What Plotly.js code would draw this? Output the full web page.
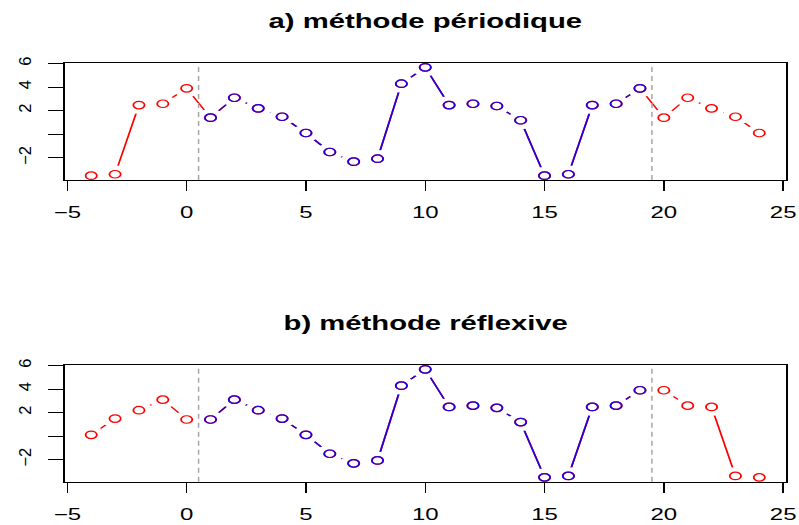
<!DOCTYPE html>
<html>
<head>
<meta charset="utf-8">
<script src="https://cdn.plot.ly/plotly-3.0.1.min.js"></script>
<style>
  html, body { margin: 0; padding: 0; overflow: hidden; background: #fff; }
  #chart { width: 533px; height: 525px; transform: scaleX(1.5); transform-origin: 0 0; }
</style>
</head>
<body>
<div id="chart"></div>
<script>
// ---- data ----
const xAll = [-4,-3,-2,-1,0,1,2,3,4,5,6,7,8,9,10,11,12,13,14,15,16,17,18,19,20,21,22,23,24];
const xSeries = [1,2,3,4,5,6,7,8,9,10,11,12,13,14,15,16,17,18,19];
const seriesValues = [1.41,3.10,2.20,1.49,0.11,-1.50,-2.32,-2.07,4.29,5.68,2.48,2.59,2.40,1.19,-3.51,-3.39,2.48,2.59,3.90];
const periodicLeft = [-3.51,-3.39,2.48,2.59,3.90];
const periodicRight = [1.41,3.10,2.20,1.49,0.11];
const reflexiveLeft = [0.11,1.49,2.20,3.10,1.41];
const reflexiveRight = [3.90,2.59,2.48,-3.39,-3.51];
const boundaries = [0.5, 19.5];
const xTickVals = [-5,0,5,10,15,20,25];
const yTickVals = [-2,0,2,4,6];
const yTickText = ['\u22122','','2','4','6'];
const panelTitles = ['a) méthode périodique', 'b) méthode réflexive'];

// ---- styling ----
const S = 1.5;              // horizontal stretch of the whole picture
const RED = '#FF0000';
const BLUE = '#2000E0';
const FONT = 'Liberation Sans, Arial, sans-serif';

const periodic = periodicLeft.concat(seriesValues, periodicRight);
const reflexive = reflexiveLeft.concat(seriesValues, reflexiveRight);

function pad(arr) {
  const lo = Math.min(...arr), hi = Math.max(...arr), d = (hi - lo) * 0.04;
  return [lo - d, hi + d];
}
const xRange = pad(xAll);
const yRange = pad(periodic.concat(reflexive));

function panelTraces(ext, xa, ya) {
  return [
    {x: xAll, y: ext, xaxis: xa, yaxis: ya, mode: 'lines', line: {color: RED, width: 1.2}, hoverinfo: 'skip'},
    {x: xSeries, y: seriesValues, xaxis: xa, yaxis: ya, mode: 'lines', line: {color: BLUE, width: 1.2}, hoverinfo: 'skip'},
    {x: xAll, y: ext, xaxis: xa, yaxis: ya, mode: 'markers', marker: {symbol: 'circle', size: 18, color: '#ffffff', line: {width: 0}}, hoverinfo: 'skip'},
    {x: xAll, y: ext, xaxis: xa, yaxis: ya, mode: 'markers', cliponaxis: false, marker: {symbol: 'circle-open', size: 7.5, color: RED, line: {width: 1.2, color: RED}}, hoverinfo: 'skip'},
    {x: xSeries, y: seriesValues, xaxis: xa, yaxis: ya, mode: 'markers', cliponaxis: false, marker: {symbol: 'circle-open', size: 7.5, color: BLUE, line: {width: 1.2, color: BLUE}}, hoverinfo: 'skip'}
  ];
}

const data = panelTraces(periodic, 'x', 'y').concat(panelTraces(reflexive, 'x2', 'y2'));

function xAxis(anchor) {
  return {
    anchor: anchor, range: xRange, tickvals: xTickVals, ticks: 'outside', ticklen: 10, tickwidth: 1, tickcolor: '#000',
    showline: true, mirror: true, linecolor: '#000', linewidth: 1, showgrid: false, zeroline: false,
    tickfont: {family: FONT, size: 16, color: '#000'}, ticklabelstandoff: 8
  };
}
function yAxis(anchor, domain) {
  return {
    anchor: anchor, domain: domain, range: yRange, tickvals: yTickVals, ticktext: yTickText,
    ticks: 'outside', ticklen: 10, tickwidth: 1, tickcolor: '#000', tickangle: -90,
    showline: true, mirror: true, linecolor: '#000', linewidth: 1, showgrid: false, zeroline: false,
    tickfont: {family: FONT, size: 16.5, color: '#000'}, ticklabelstandoff: 3
  };
}

const shapes = [];
[['x','y'],['x2','y2']].forEach(([xa, ya]) => {
  boundaries.forEach(b => shapes.push({
    type: 'line', xref: xa, yref: ya + ' domain', x0: b, x1: b, y0: 0, y1: 1,
    line: {color: '#a6a6a6', width: 1, dash: '5px,4px'}, layer: 'above'
  }));
});

const layout = {
  width: 533, height: 525,
  margin: {l: 43, r: 9, t: 0, b: 0},
  paper_bgcolor: '#fff', plot_bgcolor: '#fff', showlegend: false,
  xaxis: xAxis('y'), yaxis: yAxis('x', [0.6571, 0.88]),
  xaxis2: xAxis('y2'), yaxis2: yAxis('x2', [0.0825, 0.3048]),
  shapes: shapes,
  annotations: [
    {text: '<b>' + panelTitles[0] + '</b>', xref: 'paper', yref: 'paper', x: 0.5, y: 0.9352, xanchor: 'center', yanchor: 'bottom', showarrow: false, font: {family: FONT, size: 19.5, color: '#000'}},
    {text: '<b>' + panelTitles[1] + '</b>', xref: 'paper', yref: 'paper', x: 0.5, y: 0.36, xanchor: 'center', yanchor: 'bottom', showarrow: false, font: {family: FONT, size: 19.5, color: '#000'}}
  ]
};

Plotly.newPlot('chart', data, layout, {staticPlot: true, displayModeBar: false}).then(gd => {
  // keep the rotated y labels at natural proportions despite the horizontal stretch
  gd.querySelectorAll('.ytick text, .y2tick text').forEach(t => {
    const bb = t.getBBox();
    const svg = t.ownerSVGElement;
    let m = svg.createSVGMatrix();
    const list = t.transform.baseVal;
    for (let i = 0; i < list.numberOfItems; i++) m = m.multiply(list.getItem(i).matrix);
    const px = bb.x + bb.width / 2, py = bb.y + bb.height / 2;
    const cx = m.a * px + m.c * py + m.e;
    const old = t.getAttribute('transform') || '';
    t.setAttribute('transform', 'translate(' + cx + ',0) scale(' + (1 / S) + ',1) translate(' + (-cx) + ',0) ' + old);
  });
});
</script>
</body>
</html>
